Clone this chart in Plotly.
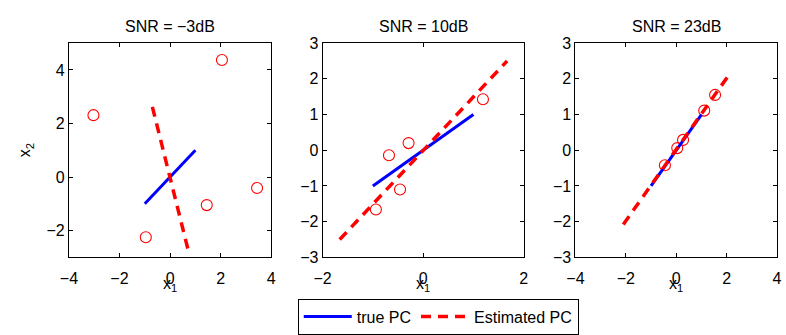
import plotly.graph_objects as go

W, H = 786, 335

titles = ["SNR = \u22123dB", "SNR = 10dB", "SNR = 23dB"]

true_x = [[-1, 1], [-1, 1], [-1, 1]]
true_y = [[-1, 1], [-1, 1], [-1, 1]]

est_x = [[-0.7, 0.76], [-1.66, 1.67], [-2.1, 2.1]]
est_y = [[2.62, -2.9], [-2.5, 2.5], [-2.08, 2.12]]

pts_x = [[-3.03, 2.05, 3.44, 1.45, -0.96],
         [-0.68, -0.29, -0.46, -0.94, 1.19],
         [-0.45, 0.04, 0.27, 1.11, 1.54]]
pts_y = [[2.31, 4.37, -0.41, -1.05, -2.25],
         [-0.14, 0.2, -1.1, -1.66, 1.43],
         [-0.42, 0.06, 0.29, 1.11, 1.55]]

x_ranges = [[-4, 4], [-2, 2], [-4, 4]]
y_ranges = [[-3, 5], [-3, 3], [-3, 3]]
x_dtick = [2, 2, 2]
y_dtick = [2, 1, 1]

# pixel geometry of axes boxes
x_px = [(61, 267), (319.3, 524), (576.7, 782)]
y_px = (37.5, 266)

FONT = "Liberation Sans, Arial, Helvetica, sans-serif"
FS = 16
fig = go.Figure()

for i in range(3):
    xa = "x" if i == 0 else f"x{i+1}"
    ya = "y" if i == 0 else f"y{i+1}"
    fig.add_trace(go.Scatter(x=pts_x[i], y=pts_y[i], mode="markers", xaxis=xa, yaxis=ya,
                             marker=dict(symbol="circle-open", size=11, color="#ff0000",
                                         line=dict(width=1.1, color="#ff0000")),
                             showlegend=False, hoverinfo="skip"))
    fig.add_trace(go.Scatter(x=true_x[i], y=true_y[i], mode="lines", xaxis=xa, yaxis=ya,
                             line=dict(color="#0000ff", width=3), name="true PC",
                             showlegend=(i == 0)))
    fig.add_trace(go.Scatter(x=est_x[i], y=est_y[i], mode="lines", xaxis=xa, yaxis=ya,
                             line=dict(color="#ff0000", width=3.5, dash="10px,7px"),
                             name="Estimated PC", showlegend=(i == 0)))

layout = dict(
    width=W, height=H,
    margin=dict(l=0, r=0, t=0, b=0),
    paper_bgcolor="white", plot_bgcolor="white",
    font=dict(family=FONT, size=FS, color="black"),
    showlegend=True,
    legend=dict(orientation="h", x=294 / W, y=1 - 310 / H, xanchor="left", yanchor="top",
                bordercolor="black", borderwidth=1, bgcolor="white",
                font=dict(family=FONT, size=FS, color="black"), itemwidth=48,
                tracegroupgap=0),
)

for i in range(3):
    sx = "" if i == 0 else str(i + 1)
    x0, x1 = x_px[i]
    axis_common = dict(showgrid=False, zeroline=False, showline=True, linecolor="black",
                       linewidth=1, mirror="ticks", ticks="inside", ticklen=4,
                       tickcolor="black", tickfont=dict(family=FONT, size=FS, color="black"))
    layout["xaxis" + sx] = dict(domain=[x0 / W, x1 / W], range=x_ranges[i], dtick=x_dtick[i],
                                tick0=0, anchor="y" + sx, ticklabelstandoff=6, **axis_common)
    layout["yaxis" + sx] = dict(domain=[1 - y_px[1] / H, 1 - y_px[0] / H], range=y_ranges[i],
                                dtick=y_dtick[i], tick0=0, anchor="x" + sx, **axis_common)

annotations = []
for i in range(3):
    x0, x1 = x_px[i]
    cx = (x0 + x1) / 2 / W
    annotations.append(dict(text=titles[i], x=cx, y=1 - 20 / H, xref="paper", yref="paper",
                            showarrow=False, xanchor="center", yanchor="middle",
                            font=dict(family=FONT, size=FS, color="black")))
    annotations.append(dict(text="x<sub>1</sub>", x=cx, y=1 - 295 / H, xref="paper", yref="paper",
                            showarrow=False, xanchor="center", yanchor="middle",
                            font=dict(family=FONT, size=FS, color="black")))
annotations.append(dict(text="x<sub>2</sub>", x=17 / W, y=1 - 152 / H, xref="paper", yref="paper",
                        showarrow=False, textangle=-90, xanchor="center", yanchor="middle",
                        font=dict(family=FONT, size=FS, color="black")))
layout["annotations"] = annotations

fig.update_layout(**layout)
fig.write_html("out.html")
